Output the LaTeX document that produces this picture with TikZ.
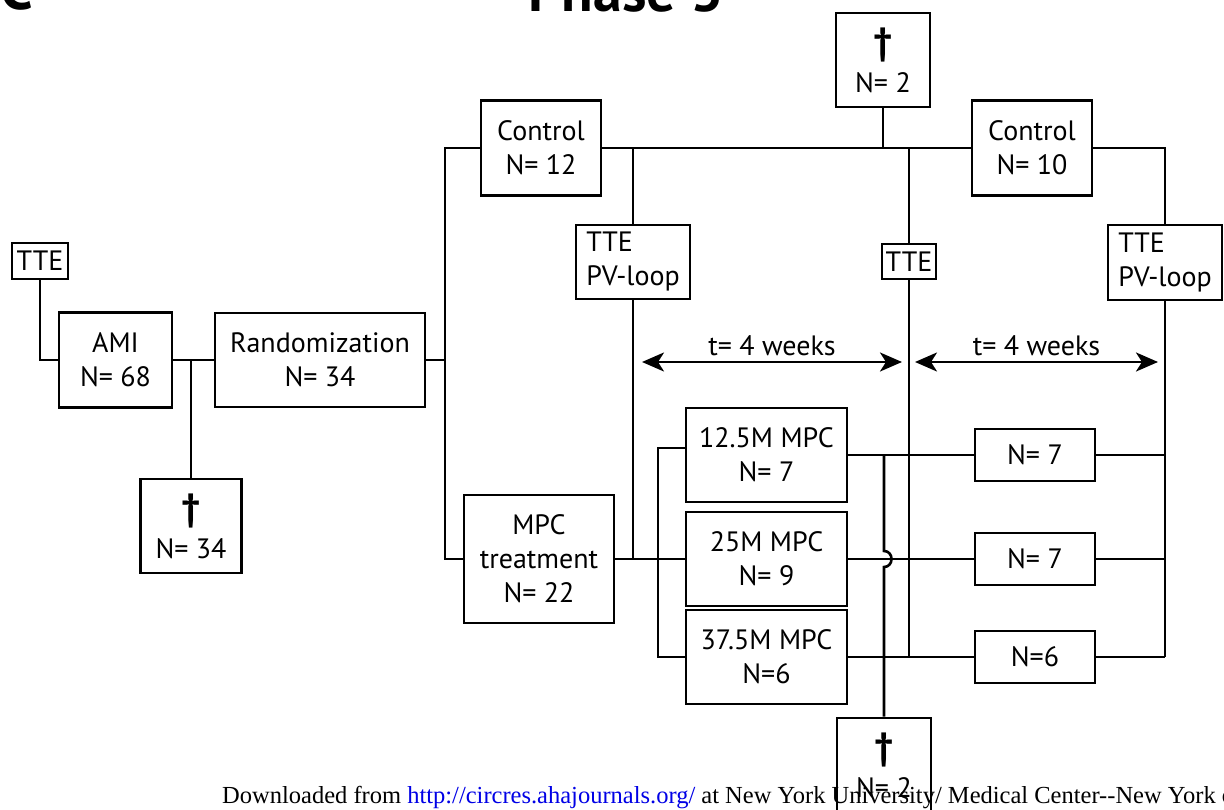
\documentclass[tikz,border=0pt]{standalone}
\usepackage{fontspec}
\setmainfont{PT Sans}
\newfontfamily\footfont[Ligatures=TeXOff]{Liberation Serif}
\usetikzlibrary{arrows.meta}
\definecolor{linkblue}{RGB}{0,0,230}
\newcommand\deadmark{{\fontsize{38}{38}\selectfont\bfseries †}}

\begin{document}
\begin{tikzpicture}[
  x=1pt, y=-1pt,
  box/.style={draw, line width=2.6pt, inner sep=0pt, align=center, font=\fontsize{28}{34}\selectfont},
  ttebox/.style={box, align=left},
  deadbox/.style={box, minimum width=94pt, minimum height=94pt},
  nbox/.style={box, minimum width=120pt, minimum height=52pt},
  dosebox/.style={box, minimum width=161pt, minimum height=94pt},
  conn/.style={line width=2.6pt},
  weekarr/.style={line width=2.6pt, {Stealth[length=22pt,width=19pt,inset=6pt]}-{Stealth[length=22pt,width=19pt,inset=6pt]}},
  lbl/.style={inner sep=0pt, font=\fontsize{28}{34}\selectfont}
]
\useasboundingbox (0,0) rectangle (1224,810);
\fill[white] (0,0) rectangle (1224,810);
\clip (0,0) rectangle (1224,810);

% heading, cut at the top edge
\node[anchor=base west, inner sep=0pt, font=\fontsize{58}{58}\selectfont\bfseries] (panel) at (0,10) {C};
\node[anchor=base, inner sep=0pt, font=\fontsize{58}{58}\selectfont\bfseries] (phase) at (626,12) {Phase 3};

% boxes
\node[box, minimum width=56pt, minimum height=36pt] (tte0) at (40,261) {TTE};
\node[box, minimum width=113pt, minimum height=95pt] (ami) at (115.5,360) {AMI\\N= 68};
\node[box, minimum width=210pt, minimum height=94pt] (rand) at (320,360) {Randomization\\N= 34};
\node[deadbox, minimum width=101pt] (dead1) at (191,526) {\deadmark\\[4pt]N= 34};
\node[box, minimum width=120pt, minimum height=95pt] (ctrl1) at (541,148) {Control\\N= 12};
\node[box, minimum width=150pt, minimum height=128pt] (mpc) at (539,559) {MPC\\treatment\\N= 22};
\node[ttebox, minimum width=114pt, minimum height=74pt] (tte1) at (633,262) {TTE\\PV-loop};
\node[deadbox] (dead2) at (883,60) {\deadmark\\[4pt]N= 2};
\node[box, minimum width=54pt, minimum height=35pt] (tte2) at (909,261.5) {TTE};
\node[box, minimum width=120pt, minimum height=95pt] (ctrl2) at (1032,148) {Control\\N= 10};
\node[ttebox, minimum width=114pt, minimum height=75pt] (tte3) at (1165,262.5) {TTE\\PV-loop};
\node[dosebox] (m1) at (766.5,455) {12.5M MPC\\N= 7};
\node[dosebox] (m2) at (766.5,559) {25M MPC\\N= 9};
\node[dosebox] (m3) at (766.5,657) {37.5M MPC\\N=6};
\node[nbox] (n1) at (1035,455) {N= 7};
\node[nbox] (n2) at (1035,559) {N= 7};
\node[nbox] (n3) at (1035,657) {N=6};
\node[deadbox] (dead3) at (884,765) {\deadmark\\[4pt]N= 2};

% left part
\draw[conn] (tte0.south) |- (ami.west);
\draw[conn] (ami.east) -- (rand.west);
\draw[conn] (dead1.north) -- (dead1.north |- ami.east);
\coordinate (split) at (445,360);
\draw[conn] (rand.east) -- (split);
\draw[conn] (ctrl1.west) -| (split) |- (mpc.west);

% control arm
\draw[conn] (ctrl1.east) -- (ctrl2.west);
\draw[conn] (tte1.north) -- (tte1.north |- ctrl1.east);
\draw[conn] (dead2.south) -- (dead2.south |- ctrl1.east);
\draw[conn] (tte2.north) -- (tte2.north |- ctrl1.east);
\draw[conn] (ctrl2.east) -| (tte3.north);

% MPC arm
\draw[conn] (mpc.east) -- (m2.west);
\draw[conn] (tte1.south) -- (tte1.south |- mpc.east);
\coordinate (fork) at (658,559);
\draw[conn] ([yshift=7pt]m1.west) -| (fork) |- (m3.west);
\draw[conn] (m1.east) -- (n1.west);
\draw[conn] (m2.east) -- (n2.west);
\draw[conn] (m3.east) -- (n3.west);
\draw[conn] (tte2.south) -- (tte2.south |- n3.west);
\draw[conn] (n1.east) -- (tte3.south |- n1.east);
\draw[conn] (n2.east) -- (tte3.south |- n2.east);
\draw[conn] (n3.east) -- (tte3.south |- n3.east);
\draw[conn] (tte3.south) -- (tte3.south |- n3.east);

% deaths line with a hop over the 25M row
\coordinate (hop) at (884,559);
\draw[conn] (dead3.north |- m1.east) -- ([yshift=8pt]hop)
  .. controls +(10pt,0) and +(10pt,0) .. ([yshift=-8pt]hop) -- (dead3.north);

% follow-up periods
\coordinate (w1a) at (642,362);
\coordinate (w1b) at (902,362);
\coordinate (w2a) at (915,362);
\coordinate (w2b) at (1158,362);
\draw[weekarr] (w1a) -- (w1b) node[lbl, midway, above=5pt] (wk1) {t= 4 weeks};
\draw[weekarr] (w2a) -- (w2b) node[lbl, midway, above=5pt] (wk2) {t= 4 weeks};

% page footer
\node[anchor=base west, inner sep=0pt, font=\footfont\fontsize{24.5}{24.5}\selectfont] (foot) at (222,803)
  {Downloaded from \textcolor{linkblue}{http://circres.ahajournals.org/} at New York University/ Medical Center--New York o};
\end{tikzpicture}
\end{document}
